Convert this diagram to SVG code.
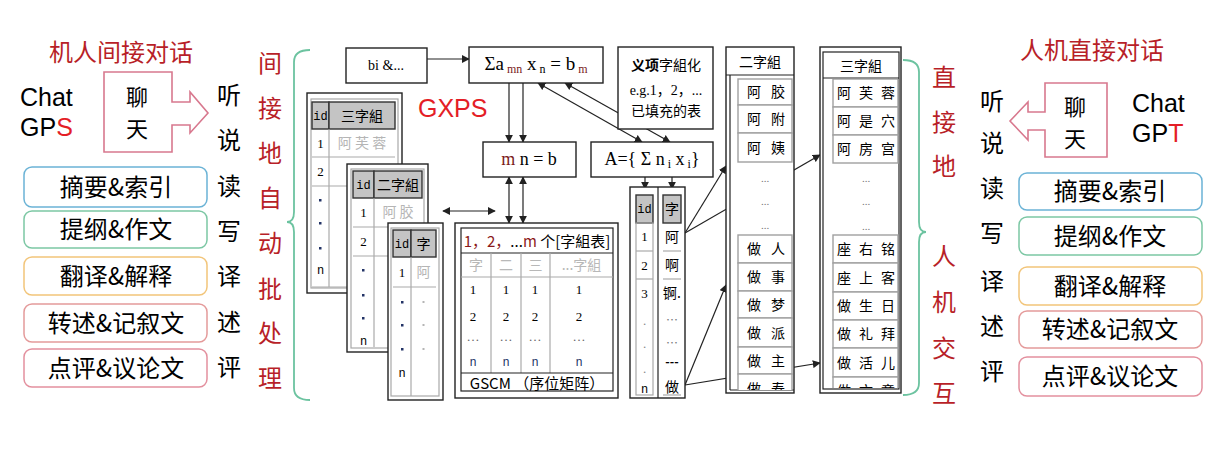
<svg xmlns="http://www.w3.org/2000/svg" width="1231" height="458" viewBox="0 0 1231 458">
<style>
.cjk{font-family:"Noto Sans CJK SC","Noto Sans",sans-serif}
.big{font-size:24px;text-anchor:middle}
.chat{font-size:22px;text-anchor:middle}
.red{fill:#b81f28}
.lat{font-family:"Liberation Sans",Arial,sans-serif;font-size:25px}
.ser{font-family:"Liberation Serif","Noto Sans CJK SC",serif}
.tb{font-family:"Noto Sans CJK SC",sans-serif;font-size:14px;text-anchor:middle}
.mono{font-family:"Liberation Mono",monospace;font-size:12px;text-anchor:middle}
.frame{fill:#fff;stroke:#222;stroke-width:1.4}
.inner{fill:none;stroke:#a8a8a8;stroke-width:1.2}
.hdr{fill:#c4c4c4;stroke:#333;stroke-width:1.4}
.cell{fill:#fff;stroke:#a0a0a0;stroke-width:1.4}
.gl{stroke:#aaa;stroke-width:1.2}
.conn{stroke:#222;stroke-width:1.2;fill:none}
.dot{fill:#223366}
.ghost{fill:#b5b5b5}
.brace{fill:none;stroke:#6cc3a0;stroke-width:1.8}
.call{fill:#fff;stroke:#d8788e;stroke-width:1.6}
.rbox{fill:#fff;stroke-width:1.5}
</style>
<defs>
<marker id="ah" viewBox="0 0 10 10" refX="9" refY="5" markerWidth="8" markerHeight="8" markerUnits="userSpaceOnUse" orient="auto-start-reverse">
<path d="M0,0 L10,5 L0,10 z" fill="#222"/>
</marker>
<clipPath id="c2"><rect x="731" y="76" width="62" height="314"/></clipPath>
<clipPath id="c3"><rect x="824" y="79" width="75" height="309"/></clipPath>
</defs>

<!-- LEFT SIDE -->
<g id="left-title"><text class="cjk big red" x="121" y="61">机人间接对话</text></g>
<g id="left-chat">
<text class="lat" x="20" y="106">Chat</text>
<text class="lat" x="20" y="136">GP<tspan fill="#e41e26">S</tspan></text>
</g>
<g id="left-callout">
<polygon class="call" points="104,72 172,72 172,102 190,102 190,92 208,113 190,133 190,125 172,125 172,152 104,152"/>
<text class="cjk chat" x="137" y="105">聊</text>
<text class="cjk chat" x="137" y="137">天</text>
</g>
<g id="left-boxes">
<rect class="rbox" x="24" y="167" width="183" height="40" rx="8" stroke="#6bb3d6"/>
<text class="cjk big" x="116" y="196">摘要&amp;索引</text>
<rect class="rbox" x="24" y="211" width="183" height="37" rx="8" stroke="#7cc7a4"/>
<text class="cjk big" x="116" y="238">提纲&amp;作文</text>
<rect class="rbox" x="24" y="257" width="183" height="38" rx="8" stroke="#f2c57a"/>
<text class="cjk big" x="116" y="285">翻译&amp;解释</text>
<rect class="rbox" x="24" y="304" width="183" height="38" rx="8" stroke="#e49a9a"/>
<text class="cjk big" x="116" y="332">转述&amp;记叙文</text>
<rect class="rbox" x="24" y="349" width="183" height="38" rx="8" stroke="#e3909e"/>
<text class="cjk big" x="116" y="377">点评&amp;议论文</text>
</g>
<g id="left-skills" class="cjk big">
<text x="229" y="104">听</text><text x="229" y="149">说</text><text x="229" y="195">读</text><text x="229" y="240">写</text><text x="229" y="285">译</text><text x="229" y="331">述</text><text x="229" y="376">评</text>
</g>
<g id="left-vertical" class="cjk big red">
<text x="270" y="72">间</text><text x="270" y="117">接</text><text x="270" y="162">地</text><text x="270" y="207">自</text><text x="270" y="252">动</text><text x="270" y="298">批</text><text x="270" y="342">处</text><text x="270" y="387">理</text>
</g>
<g id="left-brace"><path class="brace" d="M310,50 Q294,50 294,62 L294,212 Q294,222 287,222 Q294,222 294,232 L294,388 Q294,400 310,400"/></g>

<!-- RIGHT SIDE -->
<g id="right-title"><text class="cjk big red" x="1092" y="59">人机直接对话</text></g>
<g id="right-chat">
<text class="lat" x="1132" y="112">Chat</text>
<text class="lat" x="1132" y="142">GP<tspan fill="#e41e26">T</tspan></text>
</g>
<g id="right-callout">
<polygon class="call" points="1107,83 1045,83 1045,112 1028,112 1028,102 1010,121 1028,140 1028,130 1045,130 1045,157 1107,157"/>
<text class="cjk chat" x="1075" y="115">聊</text>
<text class="cjk chat" x="1075" y="147">天</text>
</g>
<g id="right-boxes">
<rect class="rbox" x="1019" y="173" width="183" height="37" rx="8" stroke="#6bb3d6"/>
<text class="cjk big" x="1110" y="200">摘要&amp;索引</text>
<rect class="rbox" x="1019" y="217" width="183" height="38" rx="8" stroke="#7cc7a4"/>
<text class="cjk big" x="1110" y="245">提纲&amp;作文</text>
<rect class="rbox" x="1019" y="267" width="183" height="38" rx="8" stroke="#f2c57a"/>
<text class="cjk big" x="1110" y="295">翻译&amp;解释</text>
<rect class="rbox" x="1019" y="311" width="183" height="37" rx="8" stroke="#e49a9a"/>
<text class="cjk big" x="1110" y="338">转述&amp;记叙文</text>
<rect class="rbox" x="1019" y="357" width="183" height="39" rx="8" stroke="#e3909e"/>
<text class="cjk big" x="1110" y="385">点评&amp;议论文</text>
</g>
<g id="right-skills" class="cjk big">
<text x="992" y="110">听</text><text x="992" y="152">说</text><text x="992" y="197">读</text><text x="992" y="242">写</text><text x="992" y="290">译</text><text x="992" y="335">述</text><text x="992" y="380">评</text>
</g>
<g id="right-vertical" class="cjk big red">
<text x="944" y="86">直</text><text x="944" y="131">接</text><text x="944" y="175">地</text><text x="944" y="265">人</text><text x="944" y="311">机</text><text x="944" y="357">交</text><text x="944" y="402">互</text>
</g>
<g id="right-brace"><path class="brace" d="M903,60 Q919,60 919,72 L919,222 Q919,232 926,232 Q919,232 919,242 L919,383 Q919,395 903,395"/></g>

<!-- CENTER -->
<g id="gxps"><text x="418" y="117" font-family="Liberation Sans,Arial,sans-serif" font-size="25" fill="#e41e26">GXPS</text></g>

<g id="table-san">
<rect class="frame" x="307" y="93" width="95" height="200"/>
<rect class="inner" x="311" y="99" width="87" height="189"/>
<rect class="hdr" x="312" y="102" width="17" height="27"/>
<rect class="hdr" x="329" y="102" width="66" height="27"/>
<text class="mono" x="320.5" y="120">id</text>
<text class="tb" x="362" y="121">三字組</text>
<line class="gl" x1="329" y1="129" x2="329" y2="287"/>
<line class="gl" x1="312" y1="157" x2="395" y2="157"/>
<line class="gl" x1="312" y1="186" x2="395" y2="186"/>
<line class="gl" x1="312" y1="287" x2="395" y2="287"/>
<text class="ser" font-size="13" text-anchor="middle" x="320.5" y="148">1</text>
<text class="tb ghost" font-size="13" x="362" y="148">阿 芙 蓉</text>
<text class="ser" font-size="13" text-anchor="middle" x="320.5" y="176">2</text>
<rect class="dot" x="319" y="199" width="2.5" height="2.5"/>
<rect class="dot" x="319" y="222" width="2.5" height="2.5"/>
<rect class="dot" x="319" y="247" width="2.5" height="2.5"/>
<text class="mono" x="320.5" y="274">n</text>
</g>

<g id="table-er">
<rect class="frame" x="347" y="164" width="81" height="188"/>
<rect class="inner" x="351" y="169" width="73" height="179"/>
<rect class="hdr" x="353" y="171" width="21" height="27"/>
<rect class="hdr" x="374" y="171" width="48" height="27"/>
<text class="mono" x="363.5" y="189">id</text>
<text class="tb" x="398" y="190">二字組</text>
<line class="gl" x1="374" y1="198" x2="374" y2="347"/>
<line class="gl" x1="353" y1="227" x2="422" y2="227"/>
<line class="gl" x1="353" y1="256" x2="422" y2="256"/>
<text class="ser" font-size="13" text-anchor="middle" x="363.5" y="217">1</text>
<text class="tb ghost" font-size="13" x="398" y="217">阿 胶</text>
<text class="ser" font-size="13" text-anchor="middle" x="363.5" y="246">2</text>
<rect class="dot" x="362" y="269" width="2.5" height="2.5"/>
<rect class="dot" x="362" y="294" width="2.5" height="2.5"/>
<rect class="dot" x="362" y="317" width="2.5" height="2.5"/>
<text class="mono" x="363.5" y="345">n</text>
</g>

<g id="table-zi">
<rect class="frame" x="388" y="223" width="55" height="177"/>
<rect class="inner" x="391" y="228" width="48" height="168"/>
<rect class="hdr" x="393" y="230" width="18" height="27"/>
<rect class="hdr" x="411" y="230" width="25" height="27"/>
<text class="mono" x="402" y="248">id</text>
<text class="tb" x="423.5" y="249">字</text>
<line class="gl" x1="411" y1="257" x2="411" y2="396"/>
<line class="gl" x1="393" y1="287" x2="436" y2="287"/>
<text class="ser" font-size="13" text-anchor="middle" x="402" y="277">1</text>
<text class="tb ghost" font-size="13" x="423.5" y="277">阿</text>
<rect class="dot" x="401" y="301" width="2.5" height="2.5"/>
<rect class="dot" x="401" y="324" width="2.5" height="2.5"/>
<rect class="dot" x="401" y="348" width="2.5" height="2.5"/>
<rect class="ghost" x="422.5" y="301" width="2" height="2"/>
<rect class="ghost" x="422.5" y="324" width="2" height="2"/>
<rect class="ghost" x="422.5" y="348" width="2" height="2"/>
<text class="mono" x="402" y="377">n</text>
</g>

<g id="node-bi">
<rect class="frame" x="346" y="48" width="81" height="35"/>
<text class="ser" font-size="14" text-anchor="middle" x="386" y="70">bi &amp;...</text>
</g>

<g id="connectors">
<line class="conn" x1="427" y1="59" x2="469" y2="59" marker-end="url(#ah)"/>
<line class="conn" x1="509" y1="83" x2="509" y2="142" marker-end="url(#ah)"/>
<line class="conn" x1="523" y1="83" x2="523" y2="142" marker-end="url(#ah)"/>
<line class="conn" x1="509" y1="177" x2="509" y2="223" marker-start="url(#ah)" marker-end="url(#ah)"/>
<line class="conn" x1="523" y1="177" x2="523" y2="223" marker-start="url(#ah)" marker-end="url(#ah)"/>
<line class="conn" x1="443" y1="211" x2="495" y2="211" marker-start="url(#ah)" marker-end="url(#ah)"/>
<line class="conn" x1="538" y1="83" x2="642" y2="142" marker-start="url(#ah)" marker-end="url(#ah)"/>
<line class="conn" x1="565" y1="83" x2="670" y2="142" marker-start="url(#ah)" marker-end="url(#ah)"/>
<line class="conn" x1="645" y1="177" x2="645" y2="189" marker-end="url(#ah)"/>
<line class="conn" x1="672" y1="177" x2="672" y2="189" marker-end="url(#ah)"/>
<line class="conn" x1="685" y1="233" x2="726" y2="166" marker-end="url(#ah)"/>
<line class="conn" x1="685" y1="233" x2="820" y2="155" marker-end="url(#ah)"/>
<line class="conn" x1="685" y1="385" x2="726" y2="285" marker-end="url(#ah)"/>
<line class="conn" x1="685" y1="385" x2="820" y2="363" marker-end="url(#ah)"/>
</g>

<g id="node-sigma">
<rect class="frame" x="469" y="47" width="134" height="36"/>
<text class="ser" font-size="19" text-anchor="middle" x="536" y="70">Σa<tspan font-size="12" fill="#7a1a1a" dy="3"> mn</tspan><tspan dy="-3"> x</tspan><tspan font-size="12" dy="3"> n</tspan><tspan dy="-3"> = b</tspan><tspan font-size="12" fill="#7a1a1a" dy="3"> m</tspan></text>
</g>

<g id="node-yixiang">
<rect class="frame" x="618" y="47" width="95" height="82"/>
<text class="cjk" font-size="14" text-anchor="middle" x="666" y="70"><tspan font-weight="bold">义项</tspan>字組化</text>
<text class="ser" font-size="14" text-anchor="middle" x="666" y="95">e.g.1，2，...</text>
<text class="cjk" font-size="14" text-anchor="middle" x="666" y="116">已填充的表</text>
</g>

<g id="node-mnb">
<rect class="frame" x="483" y="142" width="93" height="35"/>
<text class="ser" font-size="18" text-anchor="middle" x="529" y="165"><tspan fill="#7a1a1a">m</tspan> n = b</text>
</g>

<g id="node-A">
<rect class="frame" x="591" y="142" width="122" height="35"/>
<text class="ser" font-size="18" text-anchor="middle" x="652" y="165">A={ Σ n<tspan font-size="12" dy="3"> i</tspan><tspan dy="-3">  x</tspan><tspan font-size="12" dy="3"> i</tspan><tspan dy="-3">}</tspan></text>
</g>

<g id="table-gscm">
<rect class="frame" x="455" y="223" width="163" height="175"/>
<rect x="461" y="228" width="152" height="163" fill="none" stroke="#222" stroke-width="1.2"/>
<line class="conn" x1="461" y1="253" x2="613" y2="253"/>
<line class="gl" x1="461" y1="277" x2="613" y2="277"/>
<line class="gl" x1="491" y1="253" x2="491" y2="373"/>
<line class="gl" x1="521" y1="253" x2="521" y2="373"/>
<line class="gl" x1="550" y1="253" x2="550" y2="373"/>
<line class="conn" x1="461" y1="373" x2="613" y2="373"/>
<text class="cjk" font-size="15" text-anchor="middle" x="537" y="247"><tspan fill="#8b1a1a">1，2，</tspan>...<tspan fill="#8b1a1a">m</tspan> 个[字組表]</text>
<g class="tb" fill="#b8b8b8">
<text x="476" y="270">字</text><text x="506" y="270">二</text><text x="535.5" y="270">三</text><text x="581.5" y="270">...字組</text>
</g>
<g class="ser" font-size="13" text-anchor="middle">
<text x="473" y="294">1</text><text x="506" y="294">1</text><text x="535" y="294">1</text><text x="579" y="294">1</text>
<text x="473" y="321">2</text><text x="506" y="321">2</text><text x="535" y="321">2</text><text x="579" y="321">2</text>
<text x="473" y="341" fill="#666">…</text><text x="506" y="341" fill="#666">…</text><text x="535" y="341" fill="#666">…</text><text x="579" y="341" fill="#666">…</text>
</g>
<g class="mono" fill="#223366">
<text x="473" y="366">n</text><text x="506" y="366">n</text><text x="535" y="366">n</text><text x="579" y="366">n</text>
</g>
<text class="cjk" font-size="15" text-anchor="middle" x="537" y="389">GSCM （序位矩阵）</text>
</g>

<g id="table-idzi">
<rect class="frame" x="630" y="187" width="55" height="211"/>
<line class="conn" x1="658" y1="187" x2="658" y2="398"/>
<rect class="hdr" x="636" y="195" width="17" height="28"/>
<rect class="hdr" x="663" y="195" width="18" height="28"/>
<text class="mono" x="644.5" y="213">id</text>
<text class="tb" x="672" y="214">字</text>
<rect class="inner" x="636" y="223" width="17" height="172"/>
<line class="gl" x1="636" y1="251" x2="653" y2="251"/>
<line class="gl" x1="636" y1="279" x2="653" y2="279"/>
<line class="gl" x1="663" y1="251" x2="681" y2="251"/>
<line class="gl" x1="663" y1="279" x2="681" y2="279"/>
<line class="gl" x1="663" y1="395" x2="681" y2="395"/>
<g class="ser" font-size="13" text-anchor="middle">
<text x="644.5" y="241">1</text><text x="644.5" y="270">2</text><text x="644.5" y="298">3</text>
<text x="644.5" y="325" fill="#888">.</text><text x="644.5" y="348" fill="#888">.</text><text x="644.5" y="373" fill="#888">.</text>
</g>
<text class="mono" x="644.5" y="393">n</text>
<g class="tb">
<text x="672" y="242">阿</text><text x="672" y="270">啊</text><text x="672" y="298">锕.</text>
<text x="672" y="325" fill="#777" font-size="12">…</text><text x="672" y="348" fill="#777" font-size="12">…</text>
<text x="672" y="366" font-weight="bold" font-size="12">---</text>
<text x="672" y="392">做</text>
</g>
</g>

<g id="table-er-list">
<rect class="frame" x="726" y="47" width="68" height="346"/>
<line class="conn" x1="726" y1="75" x2="794" y2="75"/>
<line class="conn" x1="730" y1="75" x2="730" y2="390"/>
<line class="conn" x1="730" y1="390" x2="794" y2="390"/>
<text class="tb" font-size="15" x="760" y="67">二字組</text>
<g clip-path="url(#c2)">
<rect class="cell" x="738" y="79" width="54" height="26"/>
<rect class="cell" x="738" y="105" width="54" height="28"/>
<rect class="cell" x="738" y="133" width="54" height="29"/>
<rect class="cell" x="738" y="235" width="54" height="28"/>
<rect class="cell" x="738" y="263" width="54" height="28"/>
<rect class="cell" x="738" y="291" width="54" height="27"/>
<rect class="cell" x="738" y="318" width="54" height="29"/>
<rect class="cell" x="738" y="347" width="54" height="27"/>
<rect class="cell" x="738" y="374" width="54" height="28"/>
<g class="tb" font-size="15">
<text x="754 778" y="97">阿胶</text>
<text x="754 778" y="124">阿附</text>
<text x="754 778" y="153">阿姨</text>
<text x="754 778" y="254">做人</text>
<text x="754 778" y="282">做事</text>
<text x="754 778" y="310">做梦</text>
<text x="754 778" y="338">做派</text>
<text x="754 778" y="366">做主</text>
<text x="754 778" y="394">做寿</text>
</g>
</g>
<g class="ser" font-size="11" fill="#777" text-anchor="middle">
<text x="765" y="182">...</text><text x="765" y="205">...</text><text x="765" y="229">...</text>
</g>
</g>

<g id="table-san-list">
<rect class="frame" x="820" y="47" width="81" height="346"/>
<rect x="823" y="52" width="76" height="337" fill="none" stroke="#222" stroke-width="1.2"/>
<line class="conn" x1="823" y1="78" x2="899" y2="78"/>
<text class="tb" font-size="15" x="861" y="71">三字組</text>
<g clip-path="url(#c3)">
<rect class="cell" x="833" y="79" width="65" height="28"/>
<rect class="cell" x="833" y="107" width="65" height="28"/>
<rect class="cell" x="833" y="135" width="65" height="28"/>
<rect class="cell" x="833" y="235" width="65" height="28"/>
<rect class="cell" x="833" y="263" width="65" height="29"/>
<rect class="cell" x="833" y="292" width="65" height="28"/>
<rect class="cell" x="833" y="320" width="65" height="28"/>
<rect class="cell" x="833" y="348" width="65" height="29"/>
<rect class="cell" x="833" y="377" width="65" height="28"/>
<g class="tb" font-size="15">
<text x="844 866 888" y="98">阿芙蓉</text>
<text x="844 866 888" y="126">阿是穴</text>
<text x="844 866 888" y="154">阿房宫</text>
<text x="844 866 888" y="254">座右铭</text>
<text x="844 866 888" y="283">座上客</text>
<text x="844 866 888" y="311">做生日</text>
<text x="844 866 888" y="339">做礼拜</text>
<text x="844 866 888" y="368">做活儿</text>
<text x="844 866 888" y="396">做文章</text>
</g>
</g>
<g class="ser" font-size="11" fill="#777" text-anchor="middle">
<text x="866" y="182">...</text><text x="866" y="205">...</text><text x="866" y="230">...</text>
</g>
</g>
</svg>
